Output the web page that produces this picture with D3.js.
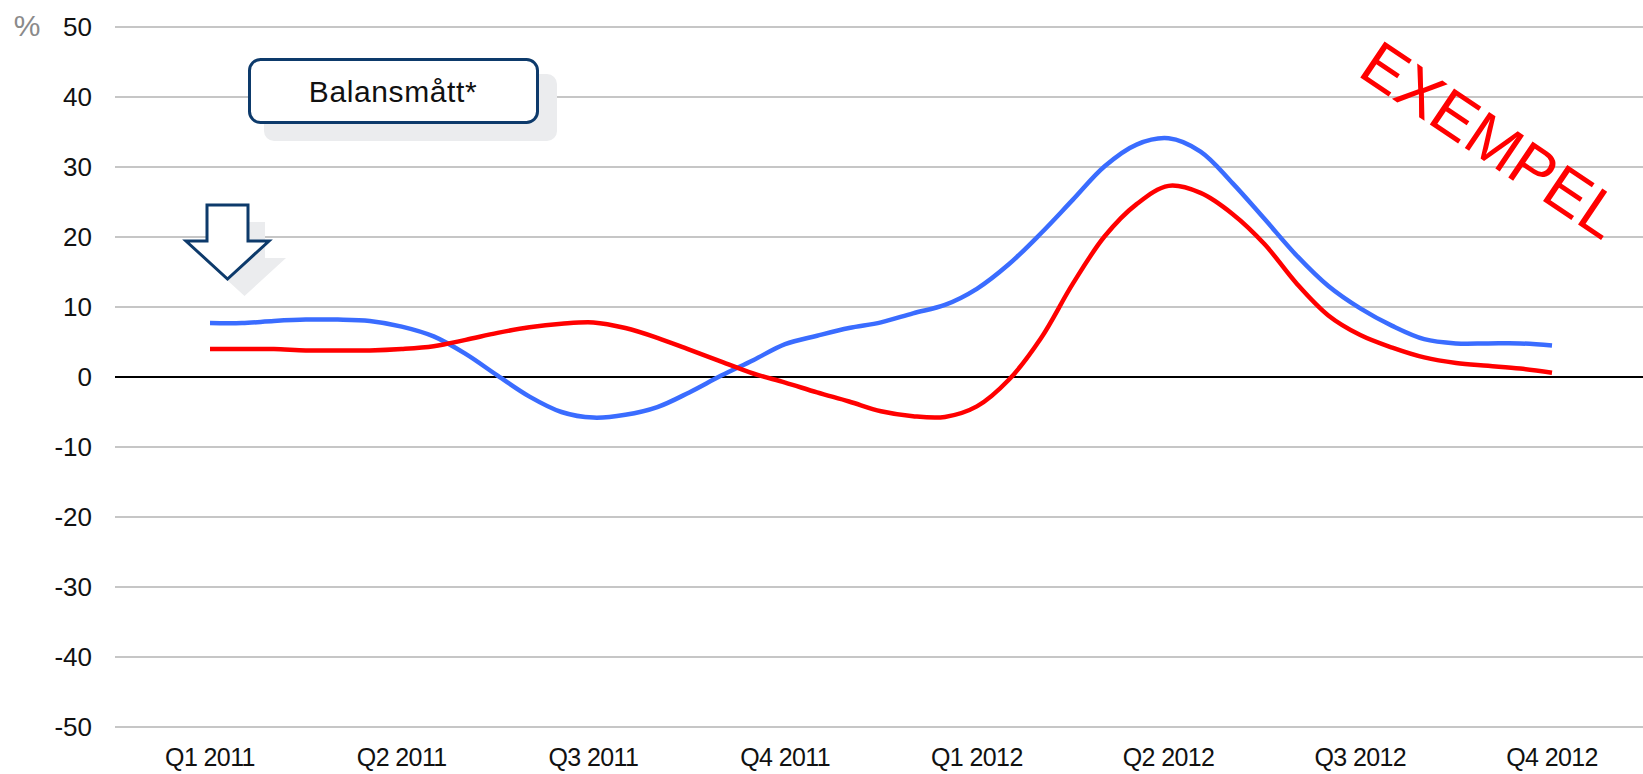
<!DOCTYPE html>
<html>
<head>
<meta charset="utf-8">
<script src="https://cdn.jsdelivr.net/npm/d3@7"></script>
<style>
  body { margin: 0; background: #fff; }
  text { font-family: Arial, "Liberation Sans", sans-serif; }
</style>
</head>
<body>
<div id="chart"></div>
<script>
// quarter labels on the x axis
const quarters = ["Q1 2011", "Q2 2011", "Q3 2011", "Q4 2011", "Q1 2012", "Q2 2012", "Q3 2012", "Q4 2012"];
const yTicks = [50, 40, 30, 20, 10, 0, -10, -20, -30, -40, -50];
// samples per quarter in the series below
const stepsPerQuarter = 6;

const blueSeries = [
  7.7, 7.7, 8.0, 8.2, 8.2, 8.0, 7.2, 5.8, 3.3, 0.2, -2.8, -5.0, -5.8, -5.4, -4.3,
  -2.2, 0.2, 2.4, 4.7, 5.9, 7.0, 7.8, 9.1, 10.3, 12.6, 16.1, 20.5, 25.3, 30.1,
  33.2, 34.1, 32.2, 27.7, 22.6, 17.4, 13.0, 9.8, 7.3, 5.4, 4.8, 4.8, 4.8, 4.5
];
const redSeries = [
  4.0, 4.0, 4.0, 3.8, 3.8, 3.8, 4.0, 4.4, 5.3, 6.3, 7.1, 7.6, 7.8, 7.0, 5.6,
  3.9, 2.2, 0.5, -0.8, -2.2, -3.5, -4.9, -5.6, -5.7, -4.2, -0.4, 5.5, 13.3, 20.1,
  24.7, 27.3, 26.3, 23.3, 19.0, 13.4, 8.8, 6.0, 4.2, 2.8, 2.0, 1.6, 1.2, 0.6
];

const width = 1643, height = 774;

const svg = d3
  .select("#chart")
  .append("svg")
  .attr("width", width)
  .attr("height", height);

const x = d3.scaleLinear().domain([0, quarters.length - 1]).range([210, 1552]);
const y = d3.scaleLinear().domain([-50, 50]).range([727, 27]);

// grid lines
svg
  .append("g")
  .selectAll("line")
  .data(yTicks)
  .join("line")
  .attr("x1", 115)
  .attr("x2", width)
  .attr("y1", (d) => y(d))
  .attr("y2", (d) => y(d))
  .attr("stroke", (d) => (d === 0 ? "#000" : "#c6c6c6"))
  .attr("stroke-width", 2);

// y labels
svg
  .append("g")
  .selectAll("text")
  .data(yTicks)
  .join("text")
  .attr("x", 92)
  .attr("y", (d) => y(d))
  .attr("dy", "0.36em")
  .attr("text-anchor", "end")
  .style("font-size", "26px")
  .attr("fill", "#111")
  .text((d) => d);

svg
  .append("text")
  .attr("x", 27)
  .attr("y", 36)
  .attr("text-anchor", "middle")
  .style("font-size", "30px")
  .attr("fill", "#8a8a8a")
  .text("%");

// x labels
svg
  .append("g")
  .selectAll("text")
  .data(quarters)
  .join("text")
  .attr("x", (d, i) => x(i))
  .attr("y", 766)
  .attr("text-anchor", "middle")
  .style("font-size", "25px")
  .style("letter-spacing", "-0.6px")
  .attr("fill", "#111")
  .text((d) => d);

// lines
const line = d3
  .line()
  .x((d, i) => x(i / stepsPerQuarter))
  .y((d) => y(d))
  .curve(d3.curveCatmullRom.alpha(0.5));

svg
  .append("path")
  .datum(blueSeries)
  .attr("d", line)
  .attr("fill", "none")
  .attr("stroke", "#3a6cff")
  .attr("stroke-width", 4.5);

svg
  .append("path")
  .datum(redSeries)
  .attr("d", line)
  .attr("fill", "none")
  .attr("stroke", "#ff0000")
  .attr("stroke-width", 4.5);

// "Balansmått*" box with shadow
svg
  .append("rect")
  .attr("x", 264)
  .attr("y", 74)
  .attr("width", 293)
  .attr("height", 67)
  .attr("rx", 10)
  .attr("fill", "#ebecee");
svg
  .append("rect")
  .attr("x", 249.5)
  .attr("y", 59.5)
  .attr("width", 288)
  .attr("height", 63)
  .attr("rx", 11)
  .attr("fill", "#fff")
  .attr("stroke", "#0d3a6b")
  .attr("stroke-width", 3);
svg
  .append("text")
  .attr("x", 393)
  .attr("y", 102)
  .attr("text-anchor", "middle")
  .style("font-size", "30px")
  .style("letter-spacing", "0.6px")
  .attr("fill", "#111")
  .text("Balansmått*");

// down arrow with shadow
const arrow = [
  [207, 205], [248, 205], [248, 241], [269, 241], [227.5, 279],
  [186, 241], [207, 241]
];
svg
  .append("polygon")
  .attr("points", arrow.map((p) => [p[0] + 17, p[1] + 17].join(",")).join(" "))
  .attr("fill", "#ebecee");
svg
  .append("polygon")
  .attr("points", arrow.map((p) => p.join(",")).join(" "))
  .attr("fill", "#fff")
  .attr("stroke", "#0d3a6b")
  .attr("stroke-width", 3);

// watermark
svg
  .append("text")
  .attr("transform", "translate(1492,139) rotate(34)")
  .attr("text-anchor", "middle")
  .attr("dy", "0.36em")
  .style("font-size", "63px")
  .attr("fill", "#ff0000")
  .text("EXEMPEL");
</script>
</body>
</html>
